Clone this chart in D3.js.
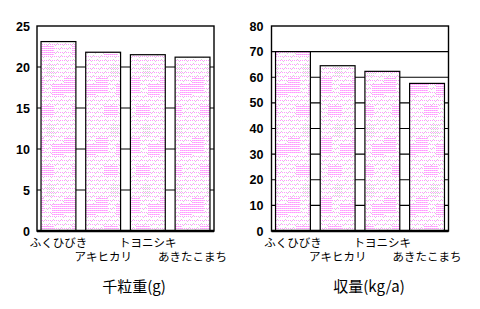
<!DOCTYPE html>
<html>
<head>
<meta charset="utf-8">
<script src="https://cdn.jsdelivr.net/npm/d3@7"></script>
<style>
  body { margin: 0; background: #fff; }
  svg { display: block; }
</style>
</head>
<body>
<svg id="chart" width="480" height="309"></svg>
<script>
// varieties and measured values
const categories = ['ふくひびき', 'アキヒカリ', 'トヨニシキ', 'あきたこまち'];
const grainWeight = [23.1, 21.8, 21.5, 21.2];
const yieldValues = [70.0, 64.5, 62.3, 57.6];
const grainTicks = [0, 5, 10, 15, 20, 25];
const yieldTicks = [0, 10, 20, 30, 40, 50, 60, 70, 80];

const svg = d3.select('#chart');
const jpFont = '"Noto Sans CJK JP", "Noto Sans", sans-serif';

// dotted pink fill used for the bars
const defs = svg.append('defs');
const pat = defs.append('pattern')
    .attr('id', 'dots')
    .attr('patternUnits', 'userSpaceOnUse')
    .attr('width', 32)
    .attr('height', 60);
pat.append('rect').attr('width', 32).attr('height', 60).attr('fill', '#fff');
// blotches where the pink dots get dense
const blotches = [[0, 18, 12, 16], [20, 24, 12, 12], [8, 46, 14, 10]];
const inBlotch = (x, y) => blotches.some(b => x >= b[0] && x < b[0] + b[2] && y >= b[1] && y < b[1] + b[3]);
for (let x = 0; x < 32; x += 2) {
    for (let y = 0; y < 60; y += 2) {
        let dense = inBlotch(x, y);
        if (dense || y % 4 === 0) {
            pat.append('rect')
                .attr('x', x).attr('y', y)
                .attr('width', 1).attr('height', 1)
                .attr('fill', '#ff99ff');
        }
        if (dense) {
            pat.append('rect')
                .attr('x', x + 1).attr('y', y)
                .attr('width', 1).attr('height', 1)
                .attr('fill', '#ffb8ff');
        } else if ((x + y) % 8 === 2 || (x > 12 && x < 22 && y > 2 && y < 16)) {
            pat.append('rect')
                .attr('x', x + 1).attr('y', y + 1)
                .attr('width', 1).attr('height', 1)
                .attr('fill', '#d4d4d4');
        }
    }
}

function drawPanel(opts) {
    const xscale = d3.scaleBand()
        .domain(categories)
        .range([opts.left, opts.right])
        .paddingInner(0.22)
        .paddingOuter(0.09);
    const yscale = d3.scaleLinear()
        .domain([0, d3.max(opts.ticks)])
        .range([opts.bottom, opts.top]);

    const g = svg.append('g');

    // gridlines behind the bars
    g.append('g')
        .selectAll('line')
        .data(opts.ticks.slice(1, -1))
        .enter()
        .append('line')
        .attr('x1', opts.left)
        .attr('x2', opts.right)
        .attr('y1', d => yscale(d))
        .attr('y2', d => yscale(d))
        .attr('stroke', '#000')
        .attr('stroke-width', 1.2);

    // bars
    g.append('g')
        .selectAll('rect')
        .data(opts.values)
        .enter()
        .append('rect')
        .attr('x', (d, i) => xscale(categories[i]))
        .attr('y', d => yscale(d))
        .attr('width', xscale.bandwidth())
        .attr('height', d => yscale(0) - yscale(d))
        .attr('fill', 'url(#dots)')
        .attr('stroke', '#000')
        .attr('stroke-width', 1.2);

    // frame
    g.append('rect')
        .attr('x', opts.left)
        .attr('y', opts.top)
        .attr('width', opts.right - opts.left)
        .attr('height', opts.bottom - opts.top)
        .attr('fill', 'none')
        .attr('stroke', '#000')
        .attr('stroke-width', 1.4);
    g.append('line')
        .attr('x1', opts.left).attr('x2', opts.right)
        .attr('y1', yscale(0)).attr('y2', yscale(0))
        .attr('stroke', '#000')
        .attr('stroke-width', 2.4);

    // y tick labels
    let yaxis = d3.axisLeft(yscale).tickValues(opts.ticks).tickSize(0).tickPadding(opts.tickPad);
    g.append('g')
        .attr('transform', `translate(${opts.left}, 0)`)
        .call(yaxis)
        .call(a => a.select('.domain').remove())
        .selectAll('text')
        .style('font-family', '"Liberation Sans", Arial, sans-serif')
        .style('font-weight', 'bold')
        .style('font-size', '12.5px')
        .attr('fill', '#000');

    // staggered category labels
    g.append('g')
        .selectAll('text')
        .data(categories)
        .enter()
        .append('text')
        .attr('x', d => xscale(d) + xscale.bandwidth() / 2)
        .attr('y', (d, i) => i % 2 === 0 ? 247 : 261)
        .attr('text-anchor', 'middle')
        .style('font-family', jpFont)
        .style('font-size', '11.5px')
        .text(d => d);

    // panel title
    g.append('text')
        .attr('x', opts.titleX)
        .attr('y', 292)
        .attr('text-anchor', 'middle')
        .style('font-family', jpFont)
        .style('font-size', '15px')
        .text(opts.title);
}

drawPanel({
    left: 37, right: 214, top: 26, bottom: 231,
    values: grainWeight, ticks: grainTicks,
    tickPad: 7, title: '千粒重(g)', titleX: 134
});
drawPanel({
    left: 271.5, right: 448.5, top: 26, bottom: 231,
    values: yieldValues, ticks: yieldTicks,
    tickPad: 8, title: '収量(kg/a)', titleX: 369
});
</script>
</body>
</html>
